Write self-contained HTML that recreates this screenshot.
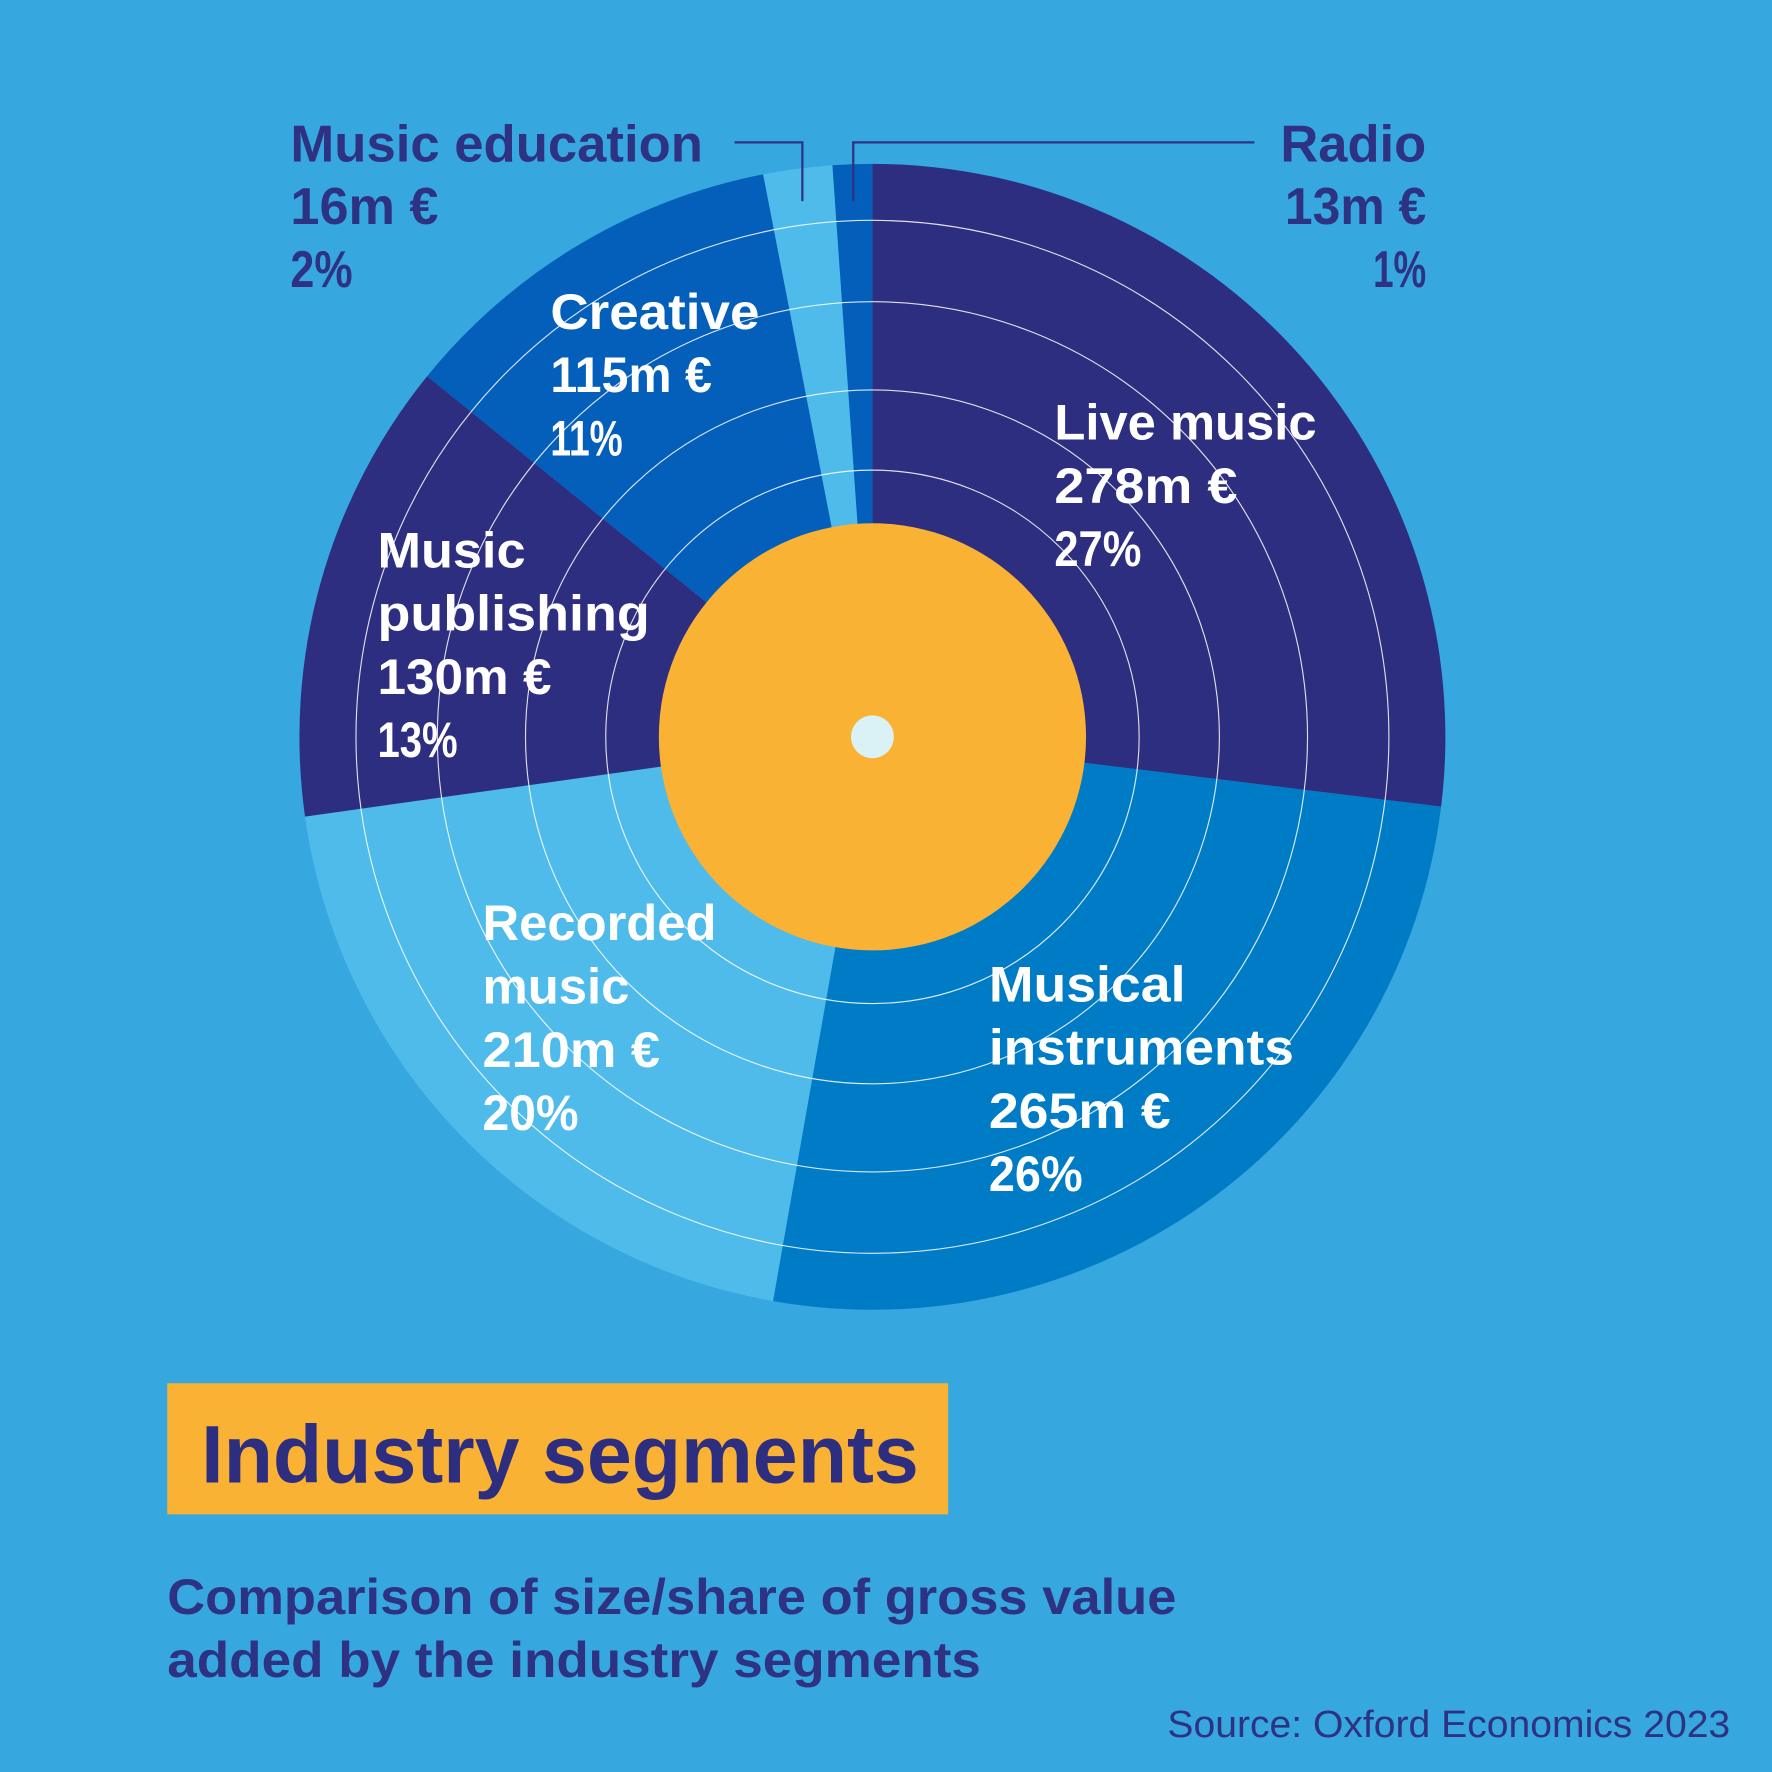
<!DOCTYPE html>
<html><head><meta charset="utf-8"><style>
html,body{margin:0;padding:0;background:#36a8df;}
svg{display:block}
text{font-family:"Liberation Sans",sans-serif;font-weight:bold}
.w{fill:#fff;font-size:44px}
.d{fill:#2e3283;font-size:46px}
</style></head><body>
<svg width="1772" height="1772" viewBox="0 0 1568 1568" xmlns="http://www.w3.org/2000/svg">
<rect width="1568" height="1568" fill="#36a8df"/>
<g>
<path d="M772,652 L772,145 A507,507 0 0 1 1275.2,713.8 Z" fill="#2e2e80"/>
<path d="M772,652 L1275.2,713.8 A507,507 0 0 1 684,1151.3 Z" fill="#007cc6"/>
<path d="M772,652 L684,1151.3 A507,507 0 0 1 269.9,722.6 Z" fill="#4fbbea"/>
<path d="M772,652 L269.9,722.6 A507,507 0 0 1 378,332.9 Z" fill="#2e2e80"/>
<path d="M772,652 L378,332.9 A507,507 0 0 1 675.3,154.3 Z" fill="#035fba"/>
<path d="M772,652 L675.3,154.3 A507,507 0 0 1 736.6,146.2 Z" fill="#4fbbea"/>
<path d="M772,652 L736.6,146.2 A507,507 0 0 1 772,145 Z" fill="#035fba"/>
</g>
<g fill="none" stroke="#fff" stroke-width="1" opacity="0.85">
<circle cx="772" cy="652" r="236"/>
<circle cx="772" cy="652" r="307"/>
<circle cx="772" cy="652" r="385"/>
<circle cx="772" cy="652" r="457"/>
</g>
<circle cx="772" cy="652" r="189" fill="#f9b233"/>
<circle cx="772" cy="652" r="19" fill="#daf2f5"/>
<g stroke="#2e3283" stroke-width="2" fill="none">
<polyline points="650,126 710,126 710,178"/>
<polyline points="1110,126 755,126 755,178"/>
</g>
<text class="d" x="257" y="143" textLength="365" lengthAdjust="spacingAndGlyphs">Music education</text>
<text class="d" x="257" y="198" textLength="131" lengthAdjust="spacingAndGlyphs">16m €</text>
<text class="d" x="257" y="254" textLength="55" lengthAdjust="spacingAndGlyphs">2%</text>
<text class="d" x="1133" y="143" textLength="129" lengthAdjust="spacingAndGlyphs">Radio</text>
<text class="d" x="1137" y="198" textLength="125" lengthAdjust="spacingAndGlyphs">13m €</text>
<text class="d" x="1215" y="254" textLength="47" lengthAdjust="spacingAndGlyphs">1%</text>

<text class="w" x="487" y="291" textLength="185" lengthAdjust="spacingAndGlyphs">Creative</text>
<text class="w" x="487" y="347" textLength="143" lengthAdjust="spacingAndGlyphs">115m €</text>
<text class="w" x="487" y="403" textLength="64" lengthAdjust="spacingAndGlyphs">11%</text>

<text class="w" x="933" y="389" textLength="232" lengthAdjust="spacingAndGlyphs">Live music</text>
<text class="w" x="933" y="445" textLength="162" lengthAdjust="spacingAndGlyphs">278m €</text>
<text class="w" x="933" y="501" textLength="77" lengthAdjust="spacingAndGlyphs">27%</text>

<text class="w" x="334" y="502" textLength="131" lengthAdjust="spacingAndGlyphs">Music</text>
<text class="w" x="334" y="558" textLength="241" lengthAdjust="spacingAndGlyphs">publishing</text>
<text class="w" x="334" y="614" textLength="154" lengthAdjust="spacingAndGlyphs">130m €</text>
<text class="w" x="334" y="670" textLength="71" lengthAdjust="spacingAndGlyphs">13%</text>

<text class="w" x="427" y="832" textLength="207" lengthAdjust="spacingAndGlyphs">Recorded</text>
<text class="w" x="427" y="888" textLength="130" lengthAdjust="spacingAndGlyphs">music</text>
<text class="w" x="427" y="944" textLength="157" lengthAdjust="spacingAndGlyphs">210m €</text>
<text class="w" x="427" y="1000" textLength="85" lengthAdjust="spacingAndGlyphs">20%</text>

<text class="w" x="875" y="886" textLength="174" lengthAdjust="spacingAndGlyphs">Musical</text>
<text class="w" x="875" y="942" textLength="270" lengthAdjust="spacingAndGlyphs">instruments</text>
<text class="w" x="875" y="998" textLength="161" lengthAdjust="spacingAndGlyphs">265m €</text>
<text class="w" x="875" y="1054" textLength="83" lengthAdjust="spacingAndGlyphs">26%</text>

<rect x="148" y="1224" width="691" height="116" fill="#f9b233"/>
<text x="178" y="1312" fill="#2e2e80" font-size="72" textLength="635" lengthAdjust="spacingAndGlyphs">Industry segments</text>
<text x="148" y="1428" fill="#2e3283" font-size="44" textLength="893" lengthAdjust="spacingAndGlyphs">Comparison of size/share of gross value</text>
<text x="148" y="1484" fill="#2e3283" font-size="44" textLength="720" lengthAdjust="spacingAndGlyphs">added by the industry segments</text>
<text x="1033" y="1537" fill="#2e3283" font-size="34" style="font-weight:normal" textLength="498" lengthAdjust="spacingAndGlyphs">Source: Oxford Economics 2023</text>
</svg>
</body></html>
